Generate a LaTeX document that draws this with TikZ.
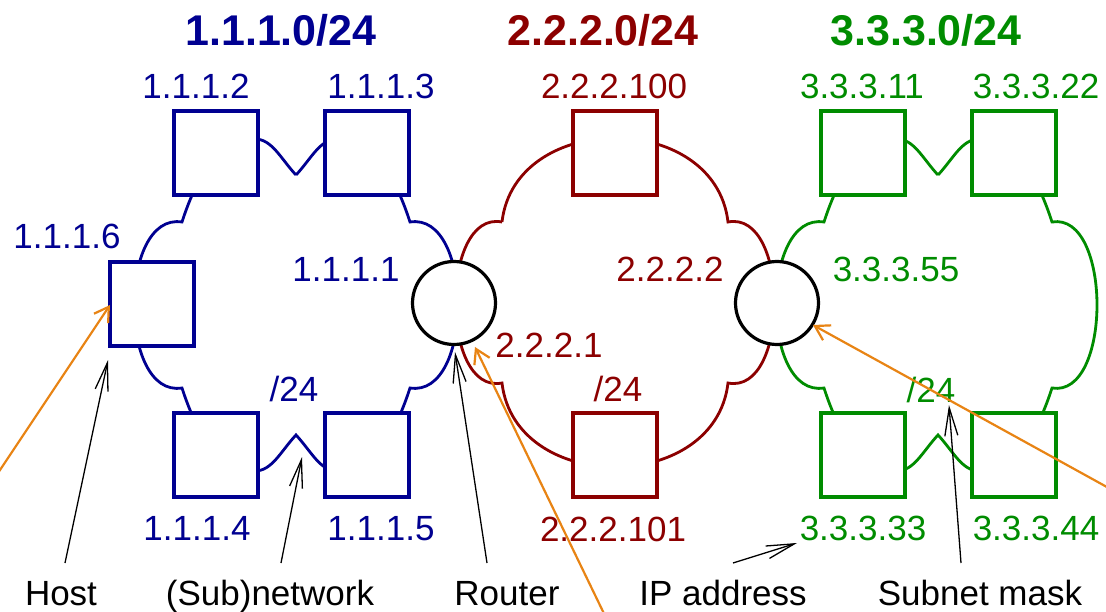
\documentclass[tikz,border=0pt]{standalone}
\usepackage{fontspec}
\setmainfont{Liberation Sans}
\usetikzlibrary{arrows.meta}
\definecolor{netblue}{RGB}{0,0,145}
\definecolor{netred}{RGB}{140,0,0}
\definecolor{netgreen}{RGB}{0,140,0}
\definecolor{annorange}{RGB}{232,132,20}
\begin{document}
\begin{tikzpicture}[x=1pt,y=-1pt,
  hostbox/.style={draw, line width=3.8pt, fill=white, minimum size=84pt, inner sep=0pt},
  routernode/.style={circle, draw=black, line width=3.2pt, fill=white, minimum size=83pt, inner sep=0pt},
  cloudline/.style={line width=2.8pt},
  iplabel/.style={anchor=base, inner sep=0pt, font=\fontsize{35}{40}\selectfont},
  nettitle/.style={anchor=base, inner sep=0pt, font=\fontsize{43}{48}\selectfont\bfseries},
  pointer/.style={black, line width=1.3pt, -{Straight Barb[length=28pt,width=13pt]}},
  annot/.style={annorange, line width=2.2pt, -{Straight Barb[length=14pt,width=17pt]}}]
\clip (0,0) rectangle (1106,612);
\fill[white] (0,0) rectangle (1106,612);

% cusp coordinates of the clouds
\coordinate (b1) at (296,175); \coordinate (b2) at (182,222); \coordinate (b3) at (182,388);
\coordinate (b4) at (296,435); \coordinate (b5) at (410,388); \coordinate (b6) at (410,222);
\coordinate (r1) at (502,222); \coordinate (r2) at (728,222); \coordinate (r3) at (728,383); \coordinate (r4) at (502,383);
\coordinate (g1) at (938,175); \coordinate (g2) at (824,222); \coordinate (g3) at (824,388);
\coordinate (g4) at (938,435); \coordinate (g5) at (1052,388); \coordinate (g6) at (1052,222);

% blue cloud
\draw[netblue, cloudline] (b1) .. controls (281,159) and (272,139) .. (255,139)
  .. controls (215,139) and (194,185) .. (b2)
  .. controls (118,212) and (118,398) .. (b3)
  .. controls (194,425) and (215,471) .. (255,471)
  .. controls (272,471) and (281,451) .. (b4)
  .. controls (311,451) and (320,471) .. (337,471)
  .. controls (377,471) and (398,425) .. (b5)
  .. controls (474,398) and (474,212) .. (b6)
  .. controls (398,185) and (377,139) .. (337,139)
  .. controls (320,139) and (311,159) .. (b1);

% red cloud
\draw[netred, cloudline] (r1) .. controls (515,110) and (715,110) .. (r2)
  .. controls (790,210) and (790,395) .. (r3)
  .. controls (715,495) and (515,495) .. (r4)
  .. controls (440,395) and (440,210) .. (r1);

% green cloud
\draw[netgreen, cloudline] (g1) .. controls (923,159) and (914,139) .. (897,139)
  .. controls (857,139) and (836,185) .. (g2)
  .. controls (760,212) and (760,398) .. (g3)
  .. controls (836,425) and (857,471) .. (897,471)
  .. controls (914,471) and (923,451) .. (g4)
  .. controls (953,451) and (962,471) .. (979,471)
  .. controls (1019,471) and (1040,425) .. (g5)
  .. controls (1112,398) and (1112,212) .. (g6)
  .. controls (1040,185) and (1019,139) .. (979,139)
  .. controls (962,139) and (953,159) .. (g1);

% hosts
\node[hostbox, draw=netblue] (h2) at (216,153) {};
\node[hostbox, draw=netblue] (h3) at (367,153) {};
\node[hostbox, draw=netblue] (h6) at (152,304) {};
\node[hostbox, draw=netblue] (h4) at (216,455) {};
\node[hostbox, draw=netblue] (h5) at (367,455) {};
\node[hostbox, draw=netred] (h100) at (615,153) {};
\node[hostbox, draw=netred] (h101) at (615,455) {};
\node[hostbox, draw=netgreen] (h11) at (863,153) {};
\node[hostbox, draw=netgreen] (h22) at (1014,153) {};
\node[hostbox, draw=netgreen] (h33) at (863,455) {};
\node[hostbox, draw=netgreen] (h44) at (1014,455) {};

% routers
\node[routernode] (rt1) at (454,303) {};
\node[routernode] (rt2) at (777,303) {};

% titles
\node[nettitle, text=netblue] (t1) at (281,46) {1.1.1.0/24};
\node[nettitle, text=netred] (t2) at (603,46) {2.2.2.0/24};
\node[nettitle, text=netgreen] (t3) at (926,46) {3.3.3.0/24};

% addresses
\node[iplabel, text=netblue] (l2) at (196,99) {1.1.1.2};
\node[iplabel, text=netblue] (l3) at (381,99) {1.1.1.3};
\node[iplabel, text=netblue] (l6) at (67,249) {1.1.1.6};
\node[iplabel, text=netblue] (l1) at (346,282) {1.1.1.1};
\node[iplabel, text=netblue] (l4) at (197,540) {1.1.1.4};
\node[iplabel, text=netblue] (l5) at (381,540) {1.1.1.5};
\node[iplabel, text=netblue] (m1) at (294,401) {/24};
\node[iplabel, text=netred] (l100) at (614,99) {2.2.2.100};
\node[iplabel, text=netred] (l22) at (670,282) {2.2.2.2};
\node[iplabel, text=netred] (l21) at (549,358) {2.2.2.1};
\node[iplabel, text=netred] (m2) at (618,401) {/24};
\node[iplabel, text=netred] (l101) at (613,541) {2.2.2.101};
\node[iplabel, text=netgreen] (l11) at (862,99) {3.3.3.11};
\node[iplabel, text=netgreen] (l322) at (1036,99) {3.3.3.22};
\node[iplabel, text=netgreen] (l55) at (896,282) {3.3.3.55};
\node[iplabel, text=netgreen] (m3) at (931,402) {/24};
\node[iplabel, text=netgreen] (l33) at (863,540) {3.3.3.33};
\node[iplabel, text=netgreen] (l44) at (1036,540) {3.3.3.44};

% legend
\node[iplabel] (host) at (61,605) {Host};
\node[iplabel] (subnet) at (270,605) {(Sub)network};
\node[iplabel] (router) at (507,605) {Router};
\node[iplabel] (ipaddr) at (723,605) {IP address};
\node[iplabel] (mask) at (980,605) {Subnet mask};

% pointer arrows
\coordinate (hostTail) at (65,563);   \coordinate (hostTip) at (108,360);
\coordinate (subTail) at (281,563);   \coordinate (subTip) at (302,457);
\coordinate (rtTail) at (487,563);    \coordinate (rtTip) at (455,352);
\coordinate (ipTail) at (733,563);    \coordinate (ipTip) at (797,543);
\coordinate (maskTail) at (961,563);  \coordinate (maskTip) at (949,405);
\draw[pointer] (hostTail) -- (hostTip);
\draw[pointer] (subTail) -- (subTip);
\draw[pointer] (rtTail) -- (rtTip);
\draw[pointer] (ipTail) -- (ipTip);
\draw[pointer] (maskTail) -- (maskTip);

% orange annotation arrows
\coordinate (oa1) at (-10,485);   \coordinate (ob1) at (110,305);
\coordinate (oa2) at (610,626);   \coordinate (ob2) at (475,347);
\coordinate (oa3) at (1125,497);  \coordinate (ob3) at (813,325);
\draw[annot] (oa1) -- (ob1);
\draw[annot] (oa2) -- (ob2);
\draw[annot] (oa3) -- (ob3);
\end{tikzpicture}
\end{document}
